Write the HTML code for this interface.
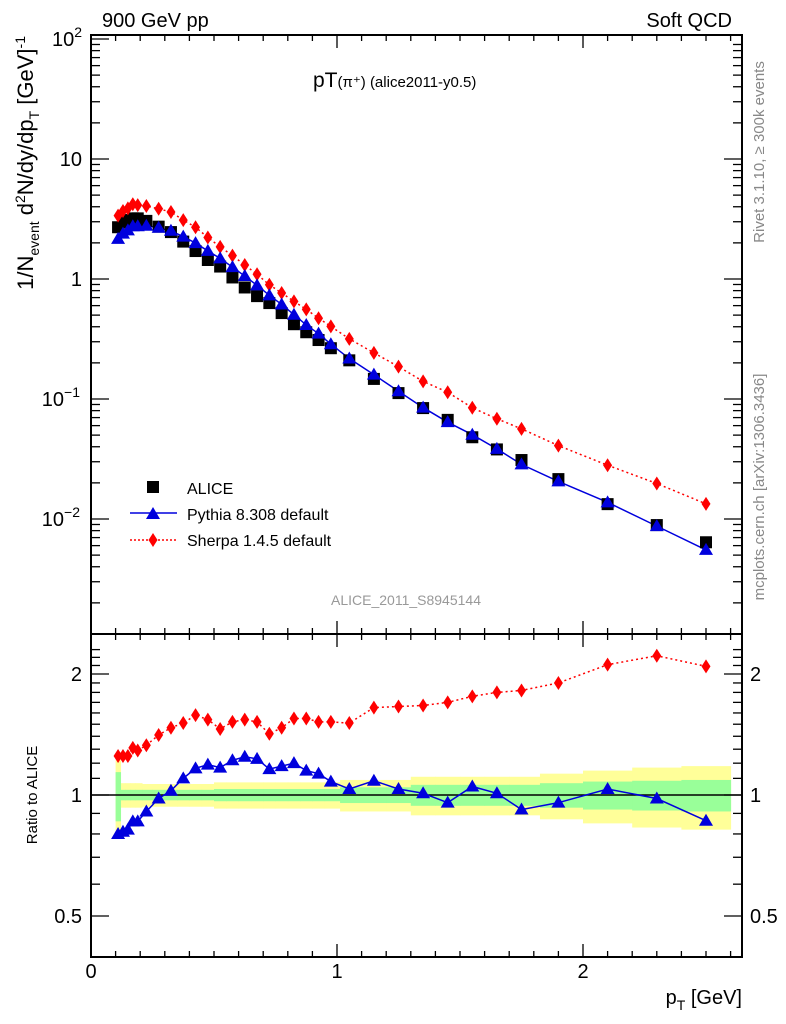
<!DOCTYPE html>
<html><head><meta charset="utf-8"><style>
body{margin:0;background:#fff;}
svg{display:block;font-family:"Liberation Sans",sans-serif;}
</style></head><body>
<svg id="c" width="786" height="1024" viewBox="0 0 786 1024"></svg>
<script>
const pT=[0.11,0.13,0.15,0.17,0.19,0.225,0.275,0.325,0.375,0.425,0.475,0.525,0.575,0.625,0.675,0.725,0.775,0.825,0.875,0.925,0.975,1.05,1.15,1.25,1.35,1.45,1.55,1.65,1.75,1.9,2.1,2.3,2.5];
const aliceVals=[2.7,2.95,3.1,3.2,3.2,3.05,2.73,2.46,2.05,1.71,1.44,1.27,1.03,0.85,0.72,0.63,0.52,0.42,0.36,0.31,0.265,0.21,0.147,0.112,0.084,0.067,0.048,0.038,0.031,0.0215,0.0133,0.0089,0.0064];
const pythiaRatio=[0.80,0.81,0.82,0.86,0.86,0.91,0.98,1.025,1.10,1.165,1.19,1.17,1.22,1.245,1.23,1.16,1.18,1.20,1.15,1.13,1.08,1.035,1.085,1.035,1.01,0.957,1.05,1.01,0.92,0.957,1.035,0.98,0.863];
const sherpaRatio=[1.25,1.25,1.25,1.31,1.29,1.33,1.41,1.47,1.51,1.58,1.54,1.46,1.52,1.54,1.52,1.42,1.47,1.55,1.55,1.52,1.52,1.51,1.65,1.66,1.67,1.70,1.76,1.80,1.82,1.90,2.11,2.22,2.09];
const greenErr=[0.14,0.03,0.03,0.03,0.03,0.03,0.03,0.03,0.03,0.03,0.03,0.035,0.035,0.035,0.035,0.035,0.035,0.035,0.035,0.035,0.035,0.045,0.045,0.045,0.06,0.06,0.06,0.06,0.06,0.07,0.08,0.085,0.09];
const yellowErr=[0.22,0.07,0.07,0.07,0.07,0.065,0.065,0.065,0.065,0.065,0.065,0.075,0.075,0.075,0.075,0.075,0.075,0.075,0.075,0.075,0.075,0.09,0.09,0.09,0.11,0.11,0.11,0.11,0.11,0.13,0.15,0.17,0.18];
const mainTicks=[[100,'10','2'],[10,'10',''],[1,'1',''],[0.1,'10','−1'],[0.01,'10','−2']];
const ratioTicks=[2,1,0.5];
const xTicks=[0,1,2];

const NS='http://www.w3.org/2000/svg';
const svg=document.getElementById('c');
const L=91,R=742,T=35,MB=634,RB=957;
const X=v=>L+v*246;
const Y=v=>279-120*Math.log10(v);
const YR=v=>795-121*Math.log2(v);
function el(t,a,p){const e=document.createElementNS(NS,t);for(const k in a)e.setAttribute(k,a[k]);(p||svg).appendChild(e);return e;}
function txt(s,a,name){const e=el('text',a);e.textContent=s;return e;}

const lo=pT.map((v,i)=>i==0?0.10:(pT[i-1]+v)/2);
const hi=pT.map((v,i)=>i==pT.length-1?2.6:(pT[i+1]+v)/2);
const gB=el('g',{});
pT.forEach((v,i)=>{
  const r=el('rect',{x:X(lo[i]),y:YR(1+yellowErr[i]),width:X(hi[i])-X(lo[i])+0.5,height:YR(1-yellowErr[i])-YR(1+yellowErr[i]),fill:'#ffff99'},gB);
  
});
pT.forEach((v,i)=>{
  const r=el('rect',{x:X(lo[i]),y:YR(1+greenErr[i]),width:X(hi[i])-X(lo[i])+0.5,height:YR(1-greenErr[i])-YR(1+greenErr[i]),fill:'#99ff99'},gB);
  
});
el('line',{x1:L,x2:R,y1:YR(1),y2:YR(1),stroke:'#000','stroke-width':1.5});

const f1=el('rect',{x:L,y:T,width:R-L,height:MB-T,fill:'none',stroke:'#000','stroke-width':2});

const f2=el('rect',{x:L,y:MB,width:R-L,height:RB-MB,fill:'none',stroke:'#000','stroke-width':2});


for(let k=0;k<=26;k++){
  const v=k/10,x=X(v),maj=k%10==0;const len=maj?13:6;
  [[T,1],[MB,-1],[MB,1],[RB,-1]].forEach(([y,d])=>el('line',{x1:x,x2:x,y1:y,y2:y+d*len,stroke:'#000','stroke-width':1.3}));
}
xTicks.forEach(v=>txt(String(v),{x:X(v),y:978,'font-size':20,'text-anchor':'middle'},'x-tick-label'));
for(let d=-3;d<2;d++)for(let m=1;m<10;m++){
  const v=m*Math.pow(10,d),y=Y(v);if(y>MB||y<T)continue;const len=m==1?18:9;
  el('line',{x1:L,x2:L+len,y1:y,y2:y,stroke:'#000','stroke-width':1.3});
  el('line',{x1:R,x2:R-len,y1:y,y2:y,stroke:'#000','stroke-width':1.3});
}
el('line',{x1:L,x2:L+18,y1:Y(100),y2:Y(100),stroke:'#000','stroke-width':1.3});
mainTicks.forEach(([v,b,e])=>{const t=txt(b,{x:e?73:82,y:Y(v)+7,'font-size':20,'text-anchor':'end'},'y-tick-label');
  if(e){const s=el('tspan',{'font-size':14,dy:-9},t);s.textContent=e;t.setAttribute('x',e.length>1?80:82);}});
for(let k=5;k<=23;k++){const v=k/10,y=YR(v);if(y<MB)continue;const len=(k==5||k==10||k==20)?18:9;
  el('line',{x1:L,x2:L+len,y1:y,y2:y,stroke:'#000','stroke-width':1.3});
  el('line',{x1:R,x2:R-len,y1:y,y2:y,stroke:'#000','stroke-width':1.3});}
ratioTicks.forEach(v=>{txt(String(v),{x:82,y:YR(v)+7,'font-size':20,'text-anchor':'end'},'ratio-tick-label');
  txt(String(v),{x:750,y:YR(v)+7,'font-size':20},'ratio-tick-label-right');});

function sq(x,y,g){const r=el('rect',{x:x-6,y:y-6,width:12,height:12,fill:'#000'},g);}
function tri(x,y,g){const p=el('path',{d:`M${x} ${y-7}L${x+7} ${y+5}L${x-7} ${y+5}Z`,fill:'#0000dd'},g);}
function dia(x,y,g){const p=el('path',{d:`M${x} ${y-7}L${x+4.5} ${y}L${x} ${y+7}L${x-4.5} ${y}Z`,fill:'#ff0000'},g);}

const pyVals=aliceVals.map((a,i)=>a*pythiaRatio[i]);
const shVals=aliceVals.map((a,i)=>a*sherpaRatio[i]);
const gM=el('g',{});
const sl=el('polyline',{points:pT.map((v,i)=>X(v)+','+Y(shVals[i])).join(' '),fill:'none',stroke:'#ff0000','stroke-width':1.5,'stroke-dasharray':'2,3'},gM);

const pl=el('polyline',{points:pT.map((v,i)=>X(v)+','+Y(pyVals[i])).join(' '),fill:'none',stroke:'#0000dd','stroke-width':1.5},gM);

pT.forEach((v,i)=>sq(X(v),Y(aliceVals[i]),gM));
pT.forEach((v,i)=>dia(X(v),Y(shVals[i]),gM));
pT.forEach((v,i)=>tri(X(v),Y(pyVals[i]),gM));

const gR=el('g',{});
const sl2=el('polyline',{points:pT.map((v,i)=>X(v)+','+YR(sherpaRatio[i])).join(' '),fill:'none',stroke:'#ff0000','stroke-width':1.5,'stroke-dasharray':'2,3'},gR);

const pl2=el('polyline',{points:pT.map((v,i)=>X(v)+','+YR(pythiaRatio[i])).join(' '),fill:'none',stroke:'#0000dd','stroke-width':1.5},gR);

pT.forEach((v,i)=>dia(X(v),YR(sherpaRatio[i]),gR));
pT.forEach((v,i)=>tri(X(v),YR(pythiaRatio[i]),gR));

sq(153,487,svg);
txt('ALICE',{x:187,y:494,'font-size':16},'legend-alice');
el('line',{x1:130,x2:177,y1:513,y2:513,stroke:'#0000dd','stroke-width':1.5});tri(153,514,svg);
txt('Pythia 8.308 default',{x:187,y:520,'font-size':16},'legend-pythia');
el('line',{x1:130,x2:177,y1:540,y2:540,stroke:'#ff0000','stroke-width':1.5,'stroke-dasharray':'2,2'});dia(153,540,svg);
txt('Sherpa 1.4.5 default',{x:187,y:546,'font-size':16},'legend-sherpa');
txt('ALICE_2011_S8945144',{x:331,y:605,'font-size':14,fill:'#999'},'analysis-id');

txt('900 GeV pp',{x:102,y:27,'font-size':20},'energy-label');
txt('Soft QCD',{x:732,y:27,'font-size':20,'text-anchor':'end'},'category-label');
const tt=txt('pT',{x:313,y:87,'font-size':21},'plot-title');
const t2=el('tspan',{'font-size':15},tt);t2.textContent='(π⁺) (alice2011-y0.5)';
txt('Rivet 3.1.10, ≥ 300k events',{transform:'translate(764,152) rotate(-90)','font-size':15,fill:'#888','text-anchor':'middle'},'rivet-version');
txt('mcplots.cern.ch [arXiv:1306.3436]',{transform:'translate(764,487) rotate(-90)','font-size':15,fill:'#888','text-anchor':'middle'},'mcplots-credit');
const yt=txt('1/N',{transform:'translate(33,36) rotate(-90)','font-size':22,'text-anchor':'end'},'y-axis-title');
[['event',14,6],[' d',22,-6],['2',14,-8],['N/dy/dp',22,8],['T',14,6],[' [GeV]',22,-6],['-1',14,-8]].forEach(([s,fs,dy])=>{const t=el('tspan',{'font-size':fs,dy:dy},yt);t.textContent=s;});
txt('Ratio to ALICE',{transform:'translate(37,795) rotate(-90)','font-size':15,'text-anchor':'middle'},'ratio-axis-title');
const xl=txt('p',{x:742,y:1004,'font-size':20,'text-anchor':'end'},'x-axis-title');
const xs=el('tspan',{'font-size':14,dy:6},xl);xs.textContent='T';
const xs2=el('tspan',{'font-size':20,dy:-6},xl);xs2.textContent=' [GeV]';
</script>
</body></html>
